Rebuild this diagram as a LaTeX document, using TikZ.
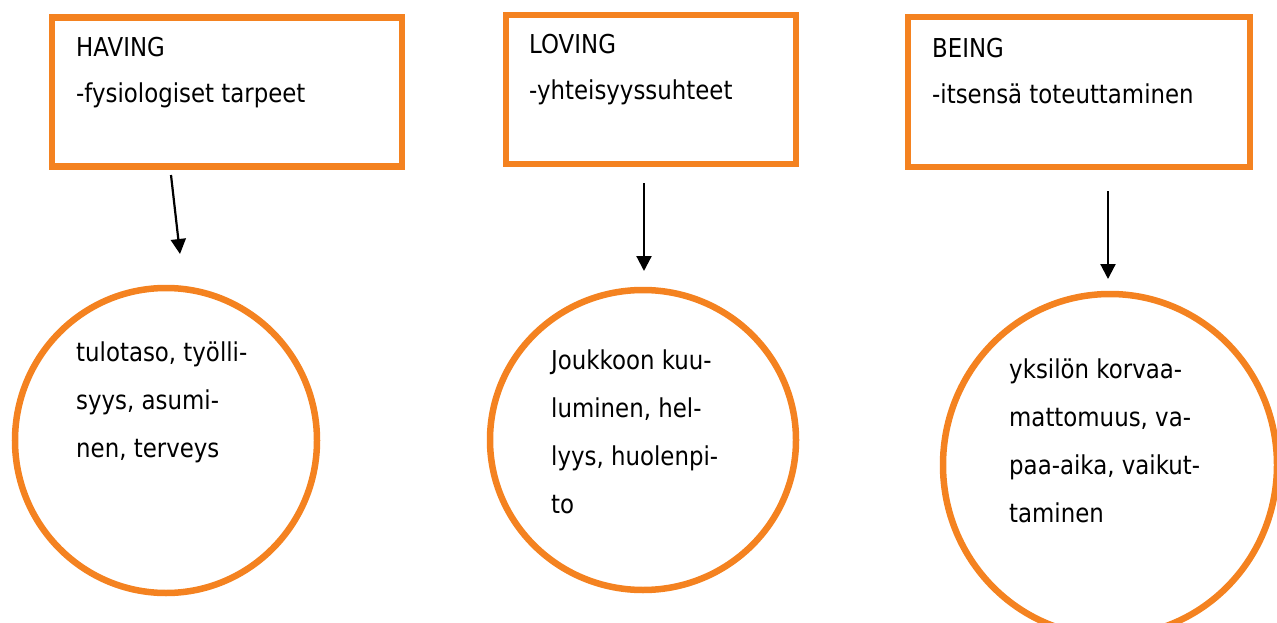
\documentclass[tikz,border=0pt]{standalone}
\usepackage{fontspec}
\setmainfont{DejaVu Sans}[FakeStretch=0.88]
\usetikzlibrary{shapes.geometric,arrows.meta}
\definecolor{boxorange}{RGB}{244,130,32}

\begin{document}
\begin{tikzpicture}[x=1pt,y=1pt]
\tikzstyle{every node}+=[inner sep=0pt]
\tikzstyle{frame}=[draw=boxorange, line width=6.5pt, rectangle]
\tikzstyle{ring}=[draw=boxorange, line width=6.5pt, ellipse]
\tikzstyle{head}=[anchor=base west, align=left, font=\fontsize{26}{46}\selectfont]
\tikzstyle{body}=[anchor=base west, align=left, font=\fontsize{26}{48}\selectfont]
\tikzstyle{arrow}=[black, line width=2.2pt, -{Triangle[length=15pt,width=15pt]}]
\useasboundingbox (0,0) rectangle (1277,-623);
% boxes
\node [frame, minimum width=350pt, minimum height=149pt] (having) at (226.9,-91.8) {};
\node [frame, minimum width=290pt, minimum height=149pt] (loving) at (651,-89.7) {};
\node [frame, minimum width=342pt, minimum height=150pt] (being) at (1079,-92.2) {};
\node [head] (havingtxt) at (76,-103) {HAVING\\-fysiologiset tarpeet};
\node [head] (lovingtxt) at (529,-100) {LOVING\\-yhteisyyssuhteet};
\node [head] (beingtxt) at (932,-104) {BEING\\-itsensä toteuttaminen};
% circles
\node [ring, minimum width=302pt, minimum height=305pt] (havingc) at (166,-440.5) {};
\node [ring, minimum width=306pt, minimum height=300pt] (lovingc) at (643,-440) {};
\node [ring, minimum width=334pt, minimum height=342pt] (beingc) at (1110,-465) {};
\node [body] (havingctxt) at (76,-457) {tulotaso, työlli-\\syys, asumi-\\nen, terveys};
\node [body] (lovingctxt) at (551,-513) {Joukkoon kuu-\\luminen, hel-\\lyys, huolenpi-\\to};
\node [body] (beingctxt) at (1009,-522) {yksilön korvaa-\\mattomuus, va-\\paa-aika, vaikut-\\taminen};
% arrows
\coordinate (a1) at (171,-175);
\coordinate (b1) at (180,-254);
\coordinate (a2) at (644,-183);
\coordinate (b2) at (644,-271);
\coordinate (a3) at (1108,-191);
\coordinate (b3) at (1108,-279);
\draw [arrow] (a1) -- (b1);
\draw [arrow] (a2) -- (b2);
\draw [arrow] (a3) -- (b3);
\end{tikzpicture}
\end{document}
